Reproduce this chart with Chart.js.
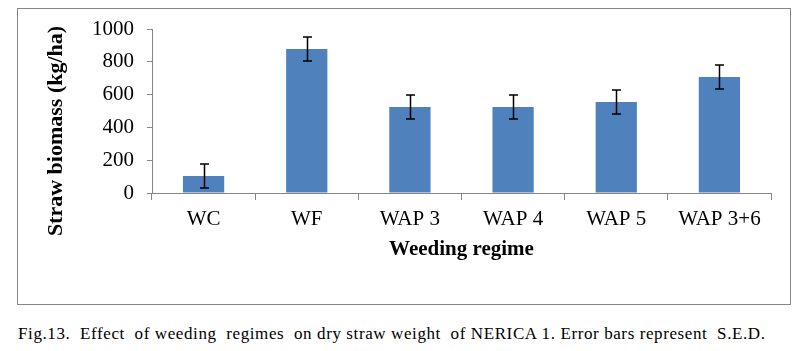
<!DOCTYPE html>
<html>
<head>
<meta charset="utf-8">
<script src="https://cdn.jsdelivr.net/npm/chart.js@4"></script>
<style>
  body{margin:0;background:#fff;width:809px;height:351px;position:relative;overflow:hidden;}
  #box{position:absolute;left:17px;top:8px;width:772px;height:295px;border:1px solid #868686;}
  #cap{position:absolute;left:18px;top:324px;font-family:"Liberation Serif","Times New Roman",serif;font-size:17px;letter-spacing:0.6px;white-space:pre;color:#000;}
</style>
</head>
<body>
<div id="box"><canvas id="c" width="772" height="295"></canvas></div>
<div id="cap">Fig.13.  Effect  of weeding  regimes  on dry straw weight  of NERICA 1. Error bars represent  S.E.D.</div>
<script>
const categories = ["WC","WF","WAP 3","WAP 4","WAP 5","WAP 3+6"];
const biomass = [104, 878, 524, 524, 555, 707];
const sed = [73, 73, 73, 73, 73, 73];
const yTicks = [0, 200, 400, 600, 800, 1000];

const FONT = "'Liberation Serif','Times New Roman',serif";

// error bars drawn from the data through the y scale
const errorBars = {
  id:"errorBars",
  afterDatasetsDraw(chart){
    const ctx = chart.ctx, y = chart.scales.y;
    const meta = chart.getDatasetMeta(0);
    ctx.save();
    ctx.strokeStyle = "#000";
    ctx.lineWidth = 1.5;
    meta.data.forEach((bar,i)=>{
      const top = y.getPixelForValue(biomass[i]+sed[i]);
      const bot = y.getPixelForValue(biomass[i]-sed[i]);
      const x = Math.round(bar.x)+0.5;
      ctx.beginPath();
      ctx.moveTo(x,top); ctx.lineTo(x,bot);
      ctx.moveTo(x-4.5,top); ctx.lineTo(x+4.5,top);
      ctx.moveTo(x-4.5,bot); ctx.lineTo(x+4.5,bot);
      ctx.stroke();
    });
    ctx.restore();
  }
};

// y title sits a bit lower than the plot centre in the original
const yTitle = {
  id:"yTitle",
  afterDraw(chart){
    const ctx = chart.ctx;
    ctx.save();
    ctx.translate(38, 122);
    ctx.rotate(-Math.PI/2);
    ctx.font = "bold 22px " + FONT;
    ctx.fillStyle = "#000";
    ctx.textAlign = "center";
    ctx.textBaseline = "middle";
    ctx.fillText("Straw biomass (kg/ha)", 0, 0);
    ctx.restore();
  }
};

new Chart(document.getElementById("c"),{
  type:"bar",
  data:{
    labels:categories,
    datasets:[{
      data:biomass,
      backgroundColor:"#4F81BD",
      barPercentage:0.8,
      categoryPercentage:0.5
    }]
  },
  options:{
    responsive:false,
    animation:false,
    layout:{padding:{left:0,right:19,top:20,bottom:0}},
    plugins:{legend:{display:false},tooltip:{enabled:false}},
    scales:{
      y:{
        min:0,max:1000,
        afterBuildTicks: s=>{ s.ticks = yTicks.map(v=>({value:v})); },
        afterFit: s=>{ s.width = 134; s.paddingTop = 0; s.paddingBottom = 0; },
        border:{color:"#868686",width:1},
        grid:{display:true,drawOnChartArea:false,drawTicks:true,tickLength:5,color:"#868686"},
        ticks:{padding:13,color:"#000",font:{family:FONT,size:21},callback:v=>String(v)}
      },
      x:{
        afterFit: s=>{ s.height = 111; },
        border:{color:"#868686",width:1},
        grid:{display:true,drawOnChartArea:false,drawTicks:true,tickLength:7,color:"#868686"},
        ticks:{padding:7,color:"#000",font:{family:FONT,size:21},maxRotation:0},
        title:{display:true,text:"Weeding regime",color:"#000",font:{family:FONT,size:21,weight:"bold"},padding:{top:0,bottom:42}}
      }
    }
  },
  plugins:[errorBars,yTitle]
});
</script>
</body>
</html>
